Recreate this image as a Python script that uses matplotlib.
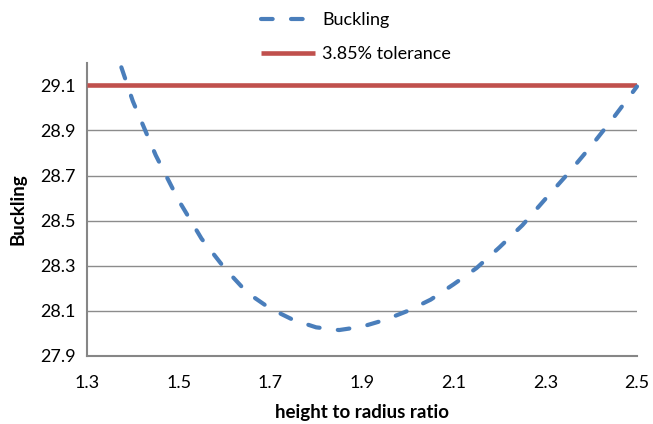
import matplotlib
matplotlib.use("Agg")
import matplotlib.pyplot as plt

plt.rcParams['font.family'] = ['Lato', 'DejaVu Sans']

ratio = [1.375, 1.40, 1.45, 1.50, 1.55, 1.60, 1.65, 1.70, 1.75, 1.80, 1.85,
         1.90, 1.95, 2.00, 2.05, 2.10, 2.15, 2.20, 2.25, 2.30, 2.35, 2.40,
         2.45, 2.50]
buckling = [29.18, 29.03, 28.79, 28.59, 28.42, 28.29, 28.18, 28.11, 28.06,
            28.027, 28.015, 28.03, 28.06, 28.10, 28.15, 28.218, 28.29, 28.382,
            28.48, 28.596, 28.71, 28.831, 28.96, 29.095]
tolerance = 29.1
xticks = [1.3, 1.5, 1.7, 1.9, 2.1, 2.3, 2.5]
yticks = [27.9, 28.1, 28.3, 28.5, 28.7, 28.9, 29.1]

fig = plt.figure(figsize=(6.53, 4.24), dpi=100)
ax = fig.add_axes([0.1332, 0.1604, 0.8423, 0.6915])

ax.set_xlim(1.3, 2.5)
ax.set_ylim(27.9, 29.2)
ax.set_xticks(xticks)
ax.set_yticks(yticks)
ax.set_xticklabels([f"{t:.1f}" for t in xticks])
ax.set_yticklabels([f"{t:.1f}" for t in yticks])
ax.grid(axis='y', color='#8c8c8c', lw=1.0)
ax.set_axisbelow(True)
for s in ['top', 'right']:
    ax.spines[s].set_visible(False)
for s in ['left', 'bottom']:
    ax.spines[s].set_color('#868686')
    ax.spines[s].set_linewidth(1.5)
ax.tick_params(length=0, labelsize=13, colors='#000000', pad=8)
ax.tick_params(axis='x', pad=14)

red, = ax.plot([1.3, 2.5], [tolerance, tolerance], color='#C0504D', lw=3.3,
               solid_capstyle='butt', label='3.85% tolerance', zorder=3)
blue, = ax.plot(ratio, buckling, color='#4A7EBB', lw=3, dashes=(2.8, 4.4),
                dash_capstyle='round', label='Buckling', zorder=4, clip_on=False)

ax.set_xlabel('height to radius ratio', fontsize=13.5, fontweight='bold', labelpad=9)
ax.set_ylabel('Buckling', fontsize=13.5, fontweight='bold', labelpad=10)

fig.legend([blue, red], ['Buckling', '3.85% tolerance'], loc='upper center',
           bbox_to_anchor=(0.545, 1.01), frameon=False, fontsize=13,
           handlelength=3.0, labelspacing=1.0, handletextpad=0.4)

fig.savefig('out.png', dpi=100)
